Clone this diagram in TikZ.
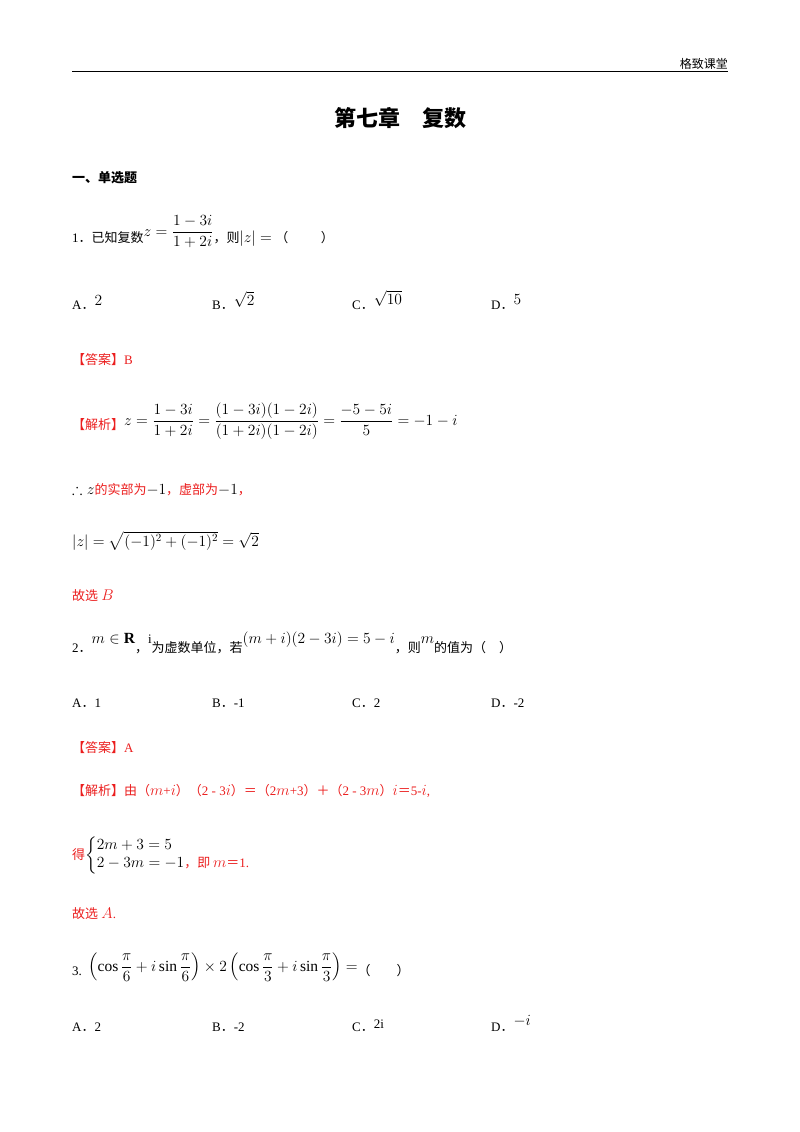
\RequirePackage{fix-cm}
\documentclass[tikz,border=0pt]{standalone}
\usepackage{amsmath,amssymb}
\usepackage{fontspec}
\setmainfont{Liberation Serif}
\newfontfamily\cjk{Noto Sans CJK SC}
\definecolor{ans}{RGB}{235,30,30}
\DeclareMathSizes{13}{15.5}{11}{9}
\begin{document}
\begin{tikzpicture}[x=1pt,y=-1pt,
  t/.style={anchor=base west,inner sep=0pt,font=\fontsize{13}{15}\selectfont},
  r/.style={t,text=ans}]
\useasboundingbox (0,0) rectangle (800,1132);
\node[anchor=base east,inner sep=0pt,font=\cjk\fontsize{12}{14}\selectfont] (hd) at (728,68) {格致课堂};
\draw[line width=1pt] (72,72) coordinate (l1) -- (728,72) coordinate (l2);
\node[inner sep=0pt,anchor=base,font=\cjk\bfseries\fontsize{22}{26}\selectfont] (ti) at (400,126) {第七章\hspace{1em}复数};
\node[t,font=\cjk\bfseries\fontsize{13}{15}\selectfont] (s1) at (72,182) {一、单选题};
% Q1
\node[t] (q1) at (72,242) {1{\cjk ．已知复数}\raisebox{6pt}{$z=\dfrac{1-3i}{1+2i}$}{\cjk ，则}$|z|=$ {\cjk （\hspace{2.5em}）}};
\node[t] (a1) at (72,309) {A{\cjk ．}\raisebox{4pt}{$2$}};
\node[t] (b1) at (212,309) {B{\cjk ．}\raisebox{4pt}{$\sqrt2$}};
\node[t] (c1) at (352,309) {C{\cjk ．}\raisebox{5pt}{$\sqrt{10}$}};
\node[t] (d1) at (491,309) {D{\cjk ．}\raisebox{5pt}{$5$}};
\node[r] (k1) at (72,364) {{\cjk 【答案】}B};
\node[r] (j1) at (72,429) {{\cjk 【解析】}\raisebox{4pt}{\textcolor{black}{$z=\dfrac{1-3i}{1+2i}=\dfrac{(1-3i)(1-2i)}{(1+2i)(1-2i)}=\dfrac{-5-5i}{5}=-1-i$}}};
\node[r] (w1) at (72,494) {\textcolor{black}{$\therefore z$}{\cjk 的实部为}\textcolor{black}{$-1$}{\cjk ，虚部为}\textcolor{black}{$-1$}{\cjk ，}};
\node[t] (m1) at (72,546) {$|z|=\sqrt{(-1)^2+(-1)^2}=\sqrt2$};
\node[r] (g1) at (72,600) {{\cjk 故选} $B$};
% Q2
\node[t] (q2) at (72,652) {2{\cjk ．}\raisebox{9pt}{$m\in\mathbf R$}{\cjk ，}\raisebox{9pt}{i}{\cjk 为虚数单位，若}\raisebox{9pt}{$(m+i)(2-3i)=5-i$}{\cjk ，则}\raisebox{9pt}{$m$}{\cjk 的值为（\hspace{1em}）}};
\node[t] (a2) at (72,707) {A{\cjk ．}1};
\node[t] (b2) at (212,707) {B{\cjk ．}-1};
\node[t] (c2) at (352,707) {C{\cjk ．}2};
\node[t] (d2) at (491,707) {D{\cjk ．}-2};
\node[r] (k2) at (72,752) {{\cjk 【答案】}A};
\node[r] (j2) at (72,795) {{\cjk 【解析】由（}$m$+$i${\cjk ）（}2 - 3$i${\cjk ）＝（}2$m$+3{\cjk ）＋（}2 - 3$m${\cjk ）}$i${\cjk ＝}5-$i$,};
\node[r] (e2) at (72,859) {{\cjk 得}\textcolor{black}{$\begin{cases}2m+3=5\\ 2-3m=-1\text{\textcolor{ans}{\cjk ，即 }\textcolor{ans}{$m${\cjk ＝}1.}}\end{cases}$}};
\node[r] (g2) at (72,918) {{\cjk 故选} $A$.};
% Q3
\node[t] (q3) at (72,975) {3.\ \ \raisebox{4pt}{$\left(\cos\dfrac{\pi}{6}+i\sin\dfrac{\pi}{6}\right)\times2\left(\cos\dfrac{\pi}{3}+i\sin\dfrac{\pi}{3}\right)=$}{\cjk （\hspace{2em}）}};
\node[t] (a3) at (72,1031) {A{\cjk ．}2};
\node[t] (b3) at (212,1031) {B{\cjk ．}-2};
\node[t] (c3) at (352,1031) {C{\cjk ．}\raisebox{3pt}{2i}};
\node[t] (d3) at (491,1031) {D{\cjk ．}\raisebox{6pt}{$-i$}};
\end{tikzpicture}
\end{document}
